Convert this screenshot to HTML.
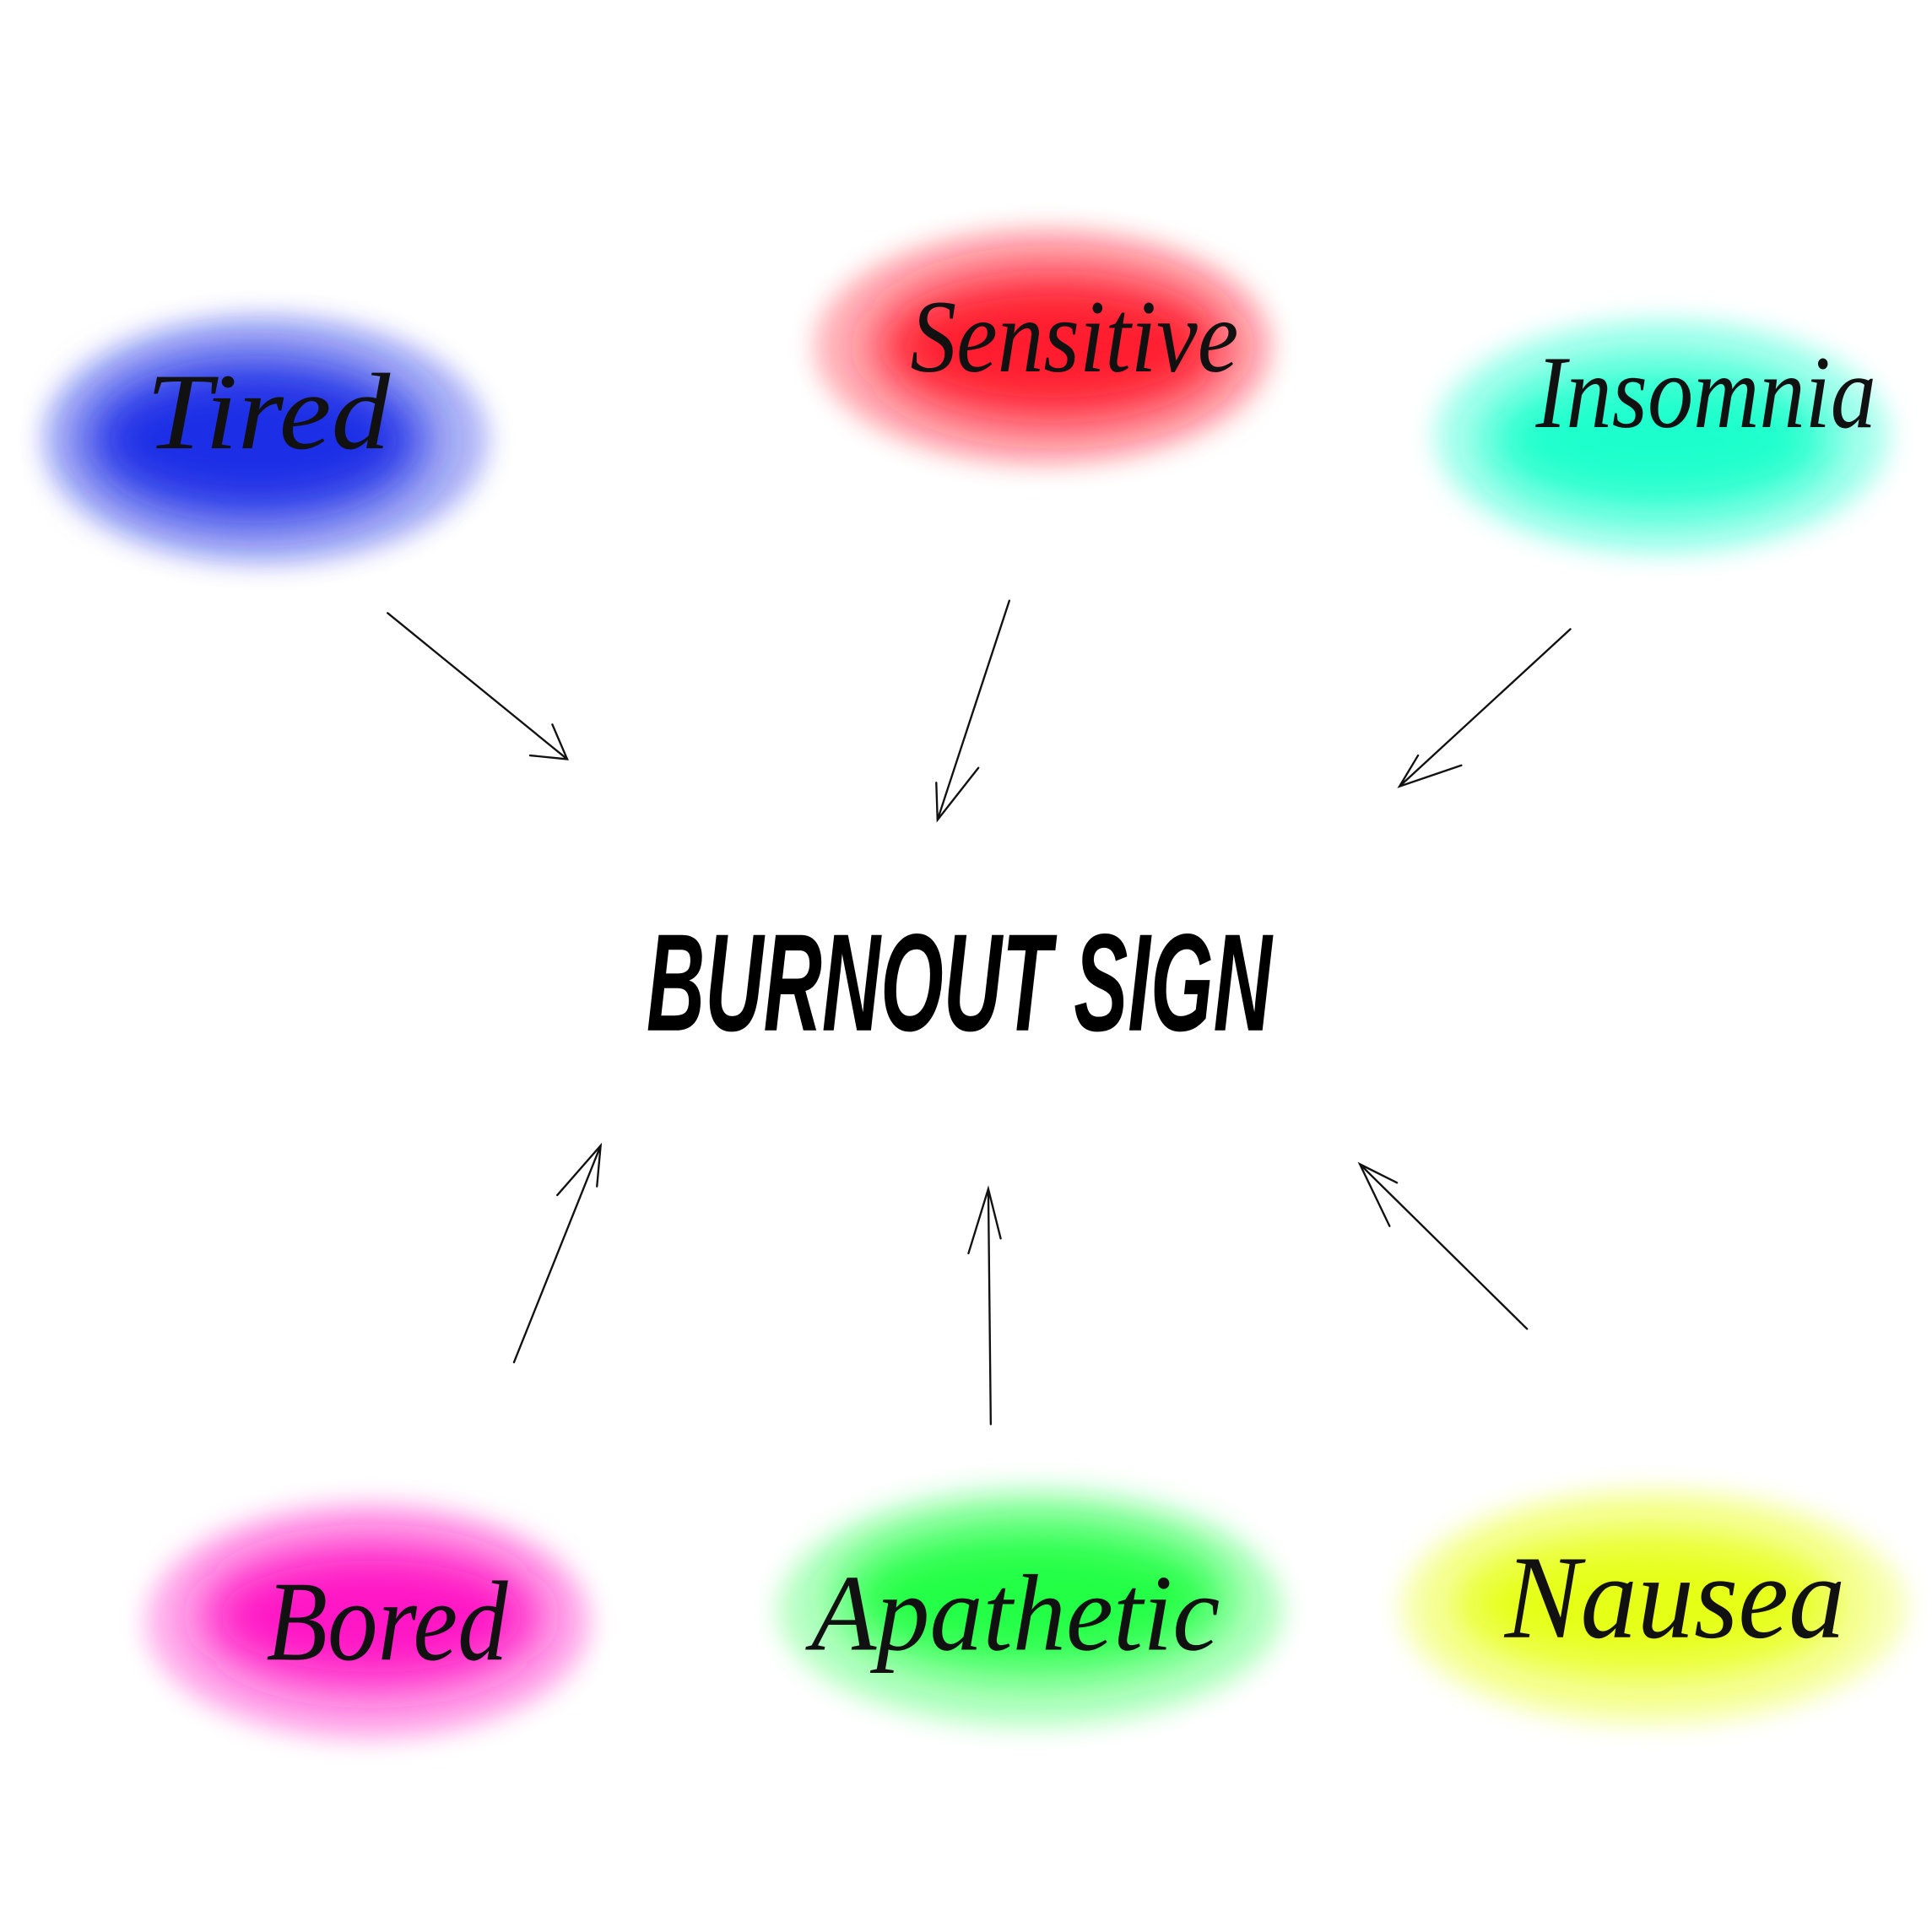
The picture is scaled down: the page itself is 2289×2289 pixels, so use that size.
<!DOCTYPE html>
<html><head><meta charset="utf-8"><style>
html,body{margin:0;padding:0;background:#fff}
svg{display:block}
.s{font-family:"Liberation Serif",serif;font-style:italic;fill:#111}
</style></head><body>
<svg width="2289" height="2289" viewBox="0 0 1560 1560" xmlns="http://www.w3.org/2000/svg">
<defs>
<filter id="b1" x="-50%" y="-50%" width="200%" height="200%"><feGaussianBlur stdDeviation="22"/></filter>
<filter id="b2" x="-50%" y="-50%" width="200%" height="200%"><feGaussianBlur stdDeviation="10"/></filter>
</defs>
<rect width="1560" height="1560" fill="#fff"/>
<g>
<ellipse cx="215" cy="355" rx="180" ry="100" fill="#2a3ae8" opacity="0.35" filter="url(#b2)"/>
<ellipse cx="205" cy="355" rx="140" ry="68" fill="#1f2ee6" filter="url(#b1)"/>
</g>
<g>
<ellipse cx="842" cy="280" rx="185" ry="95" fill="#ff3344" opacity="0.35" filter="url(#b2)"/>
<ellipse cx="850" cy="280" rx="145" ry="62" fill="#ff1a2e" filter="url(#b1)"/>
</g>
<g>
<ellipse cx="1342" cy="352" rx="185" ry="95" fill="#33ffd6" opacity="0.35" filter="url(#b2)"/>
<ellipse cx="1340" cy="355" rx="145" ry="62" fill="#1affcc" filter="url(#b1)"/>
</g>
<g>
<ellipse cx="297" cy="1310" rx="180" ry="95" fill="#ff33cc" opacity="0.35" filter="url(#b2)"/>
<ellipse cx="300" cy="1305" rx="140" ry="60" fill="#ff14c4" filter="url(#b1)"/>
</g>
<g>
<ellipse cx="832" cy="1300" rx="205" ry="95" fill="#44ff66" opacity="0.35" filter="url(#b2)"/>
<ellipse cx="835" cy="1290" rx="160" ry="62" fill="#22ff44" filter="url(#b1)"/>
</g>
<g>
<ellipse cx="1335" cy="1298" rx="205" ry="95" fill="#eeff44" opacity="0.4" filter="url(#b2)"/>
<ellipse cx="1330" cy="1295" rx="160" ry="60" fill="#e6ff14" filter="url(#b1)"/>
</g>
<text class="s" x="118" y="362" font-size="88" textLength="197" lengthAdjust="spacingAndGlyphs">Tired</text>
<text class="s" x="735" y="300" font-size="84" textLength="265" lengthAdjust="spacingAndGlyphs">Sensitive</text>
<text class="s" x="1240" y="345" font-size="84" textLength="275" lengthAdjust="spacingAndGlyphs">Insomnia</text>
<text class="s" x="215" y="1340" font-size="92" textLength="195" lengthAdjust="spacingAndGlyphs">Bored</text>
<text class="s" x="655" y="1332" font-size="88" textLength="330" lengthAdjust="spacingAndGlyphs">Apathetic</text>
<text class="s" x="1215" y="1322" font-size="96" textLength="275" lengthAdjust="spacingAndGlyphs">Nausea</text>
<text x="522" y="832" font-family="Liberation Sans,sans-serif" font-weight="bold" font-style="italic" font-size="112" fill="#000" textLength="505" lengthAdjust="spacingAndGlyphs">BURNOUT SIGN</text>
<g stroke="#111" stroke-width="1.6" fill="none" stroke-linecap="round">
<path d="M313 495 L458 613 M428 610 L458 613 L446 585"/>
<path d="M815 485 L757 662 M756 632 L757 662 L790 620"/>
<path d="M1268 508 L1130 635 M1145 610 L1130 635 L1180 618"/>
<path d="M415 1100 L485 925 M450 965 L485 925 L482 958"/>
<path d="M800 1150 L798 960 M782 1012 L798 960 L808 1000"/>
<path d="M1233 1073 L1098 940 M1128 955 L1098 940 L1122 990"/>
</g>
</svg>
</body></html>
